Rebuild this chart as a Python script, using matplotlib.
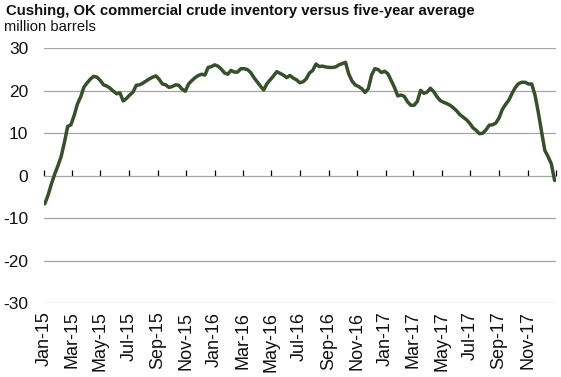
import matplotlib
matplotlib.use("Agg")
import matplotlib.pyplot as plt
import pandas as pd

plt.rcParams['font.family'] = ['Liberation Sans', 'DejaVu Sans']

title = "Cushing, OK commercial crude inventory versus five-year average"
subtitle = "million barrels"

week_start = "2015-01-02"
values = [
    -6.6, -4.6, -2.0, 0.3, 2.3, 4.5, 7.8, 11.6, 12.0, 14.2,
    16.9, 18.6, 20.9, 21.9, 22.8, 23.4, 23.2, 22.4, 21.4, 21.1,
    20.6, 19.9, 19.3, 19.5, 17.6, 18.2, 19.0, 19.7, 21.3, 21.4,
    21.8, 22.3, 22.8, 23.2, 23.5, 22.7, 21.6, 21.4, 20.8, 21.0,
    21.4, 21.3, 20.4, 19.9, 21.6, 22.4, 23.1, 23.6, 23.9, 23.7,
    25.5, 25.7, 26.1, 25.8, 25.1, 24.2, 23.9, 24.8, 24.4, 24.4,
    25.2, 25.2, 25.0, 24.3, 23.1, 22.1, 21.1, 20.2, 21.7, 22.6,
    23.5, 24.5, 24.1, 23.7, 23.1, 23.6, 23.0, 22.6, 21.9, 22.1,
    22.8, 24.2, 24.8, 26.3, 25.7, 25.8, 25.6, 25.5, 25.5, 25.6,
    26.1, 26.4, 26.7, 24.0, 22.3, 21.4, 21.0, 20.5, 19.6, 20.5,
    23.7, 25.2, 25.0, 24.3, 24.6, 24.0, 22.4, 20.8, 18.8, 19.0,
    18.7, 17.4, 16.6, 16.6, 17.5, 20.1, 19.4, 19.7, 20.6, 19.8,
    18.6, 17.7, 17.3, 17.0, 16.6, 16.0, 15.3, 14.4, 13.8, 13.2,
    12.4, 11.3, 10.7, 9.9, 10.0, 10.8, 11.9, 12.0, 12.4, 13.6,
    15.6, 16.8, 17.8, 19.4, 20.8, 21.7, 22.0, 22.0, 21.6, 21.6,
    19.0, 15.0, 10.4, 6.0, 4.5, 2.8, -1.1,
]
dates = pd.date_range(week_start, periods=len(values), freq="7D")

tick_dates = pd.date_range("2015-01-01", periods=18, freq="2MS")
tick_labels = ["Jan-15", "Mar-15", "May-15", "Jul-15", "Sep-15", "Nov-15",
               "Jan-16", "Mar-16", "May-16", "Jul-16", "Sep-16", "Nov-16",
               "Jan-17", "Mar-17", "May-17", "Jul-17", "Sep-17", "Nov-17"]
y_ticks = [-30, -20, -10, 0, 10, 20, 30]

W, H = 561, 377
fig = plt.figure(figsize=(W / 100, H / 100), dpi=100)
ax = fig.add_axes([44.3 / W, 1 - 303.2 / H, (556 - 44.3) / W, (303.2 - 48.3) / H])

ax.plot(dates, values, color="#36502a", lw=2.5, solid_capstyle="round", zorder=3)

ax.set_xlim(pd.Timestamp("2015-01-01"), pd.Timestamp("2018-01-01"))
ax.set_ylim(-30, 30)
ax.set_yticks(y_ticks)
ax.set_yticklabels([str(v) for v in y_ticks], fontsize=12.5, color="#111111")
ax.yaxis.grid(True, color="#a6a6a6", lw=0.9)
ax.set_axisbelow(True)
ax.tick_params(axis="y", length=0, pad=11.5)

ax.set_xticks(tick_dates)
ax.set_xticklabels(tick_labels, rotation=90, fontsize=13, color="#111111")
ax.tick_params(axis="x", length=0, pad=6)

for s in ax.spines.values():
    s.set_visible(False)

# zero axis line with downward ticks
sec = ax.secondary_xaxis(0.5)
sec.set_xticks(list(pd.date_range("2015-01-01", periods=19, freq="2MS")))
sec.set_xticklabels([])
sec.tick_params(axis="x", direction="out", length=4.5, width=0.9, color="black")
sec.spines["bottom"].set_color("black")
sec.spines["bottom"].set_linewidth(0.9)
for k in ("top", "left", "right"):
    sec.spines[k].set_visible(False)

fig.text(6 / W, 1 - 4 / H, title, fontsize=10.7, fontweight="bold", va="top", ha="left", color="#111111")
fig.text(4 / W, 1 - 20 / H, subtitle, fontsize=10.6, va="top", ha="left", color="#111111")

fig.savefig("out.png", dpi=100)
